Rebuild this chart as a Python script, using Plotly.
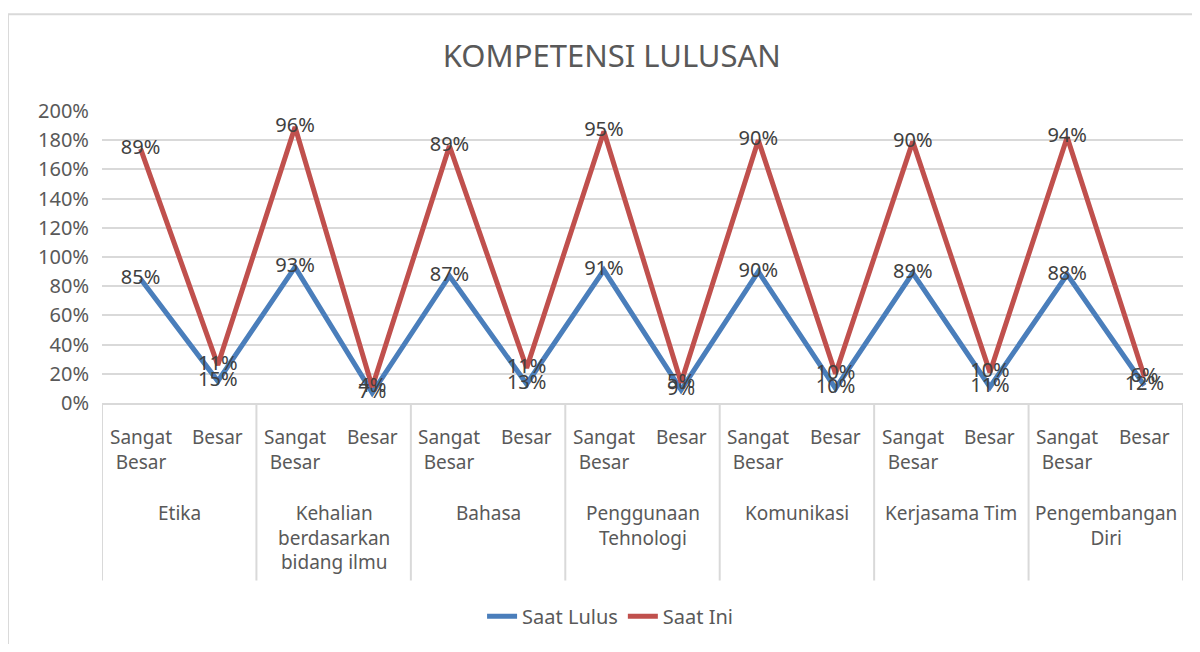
import plotly.graph_objects as go
import numpy as np

kompetensi = ["Etika", "Kehalian<br>berdasarkan<br>bidang ilmu", "Bahasa", "Penggunaan<br>Tehnologi",
              "Komunikasi", "Kerjasama Tim", "Pengembangan<br>Diri"]
tingkat = ["Sangat<br>Besar", "Besar"]

saat_lulus = [85, 15, 93, 7, 87, 13, 91, 9, 90, 10, 89, 11, 88, 12]
saat_ini = [89, 11, 96, 4, 89, 11, 95, 5, 90, 10, 90, 10, 94, 6]

# 14 posisi kategori (kompetensi x tingkat)
n_cat = len(kompetensi) * len(tingkat)
pos = list(range(n_cat))

lulus = np.array(saat_lulus) / 100
ini_stacked = lulus + np.array(saat_ini) / 100  # garis bertumpuk seperti di Excel

grid = "#d9d9d9"
txt = "#595959"

fig = go.Figure()
fig.add_trace(go.Scatter(
    x=pos, y=lulus, name="Saat Lulus", mode="lines+text",
    line=dict(color="#4a7ebb", width=5),
    text=[f"{v}%" for v in saat_lulus], textposition="middle center",
    textfont=dict(size=20, color="#404040"),
))
fig.add_trace(go.Scatter(
    x=pos, y=ini_stacked, name="Saat Ini", mode="lines+text",
    line=dict(color="#c0504d", width=5),
    text=[f"{v}%" for v in saat_ini], textposition="middle center",
    textfont=dict(size=20, color="#404040"),
))

# label sumbu x dua tingkat
for i in pos:
    fig.add_annotation(x=i, y=-0.065, xref="x", yref="paper", yanchor="top",
                       text=tingkat[i % 2], showarrow=False,
                       font=dict(size=19, color=txt))
for g, k in enumerate(kompetensi):
    fig.add_annotation(x=2 * g + 0.5, y=-0.325, xref="x", yref="paper", yanchor="top",
                       text=k, showarrow=False, font=dict(size=19, color=txt))
# garis pembatas kelompok
for g in range(len(kompetensi) + 1):
    fig.add_shape(type="line", x0=2 * g - 0.5, x1=2 * g - 0.5, xref="x", yref="paper",
                  y0=0, y1=-0.608, line=dict(color=grid, width=2))

# bingkai grafik (hanya atas dan kiri yang terlihat)
fig.add_shape(type="line", xref="paper", yref="paper", x0=-0.087, x1=1.02, y0=1.331, y1=1.331,
              line=dict(color=grid, width=2))
fig.add_shape(type="line", xref="paper", yref="paper", x0=-0.087, x1=-0.087, y0=1.331, y1=-0.85,
              line=dict(color=grid, width=2))

fig.update_layout(
    title=dict(text="KOMPETENSI LULUSAN", x=0.51, xanchor="center", y=0.925, yanchor="middle",
               font=dict(size=31, color=txt)),
    font=dict(family="Noto Sans", color=txt),
    width=1184, height=636,
    margin=dict(l=94, r=9, t=103, b=237),
    plot_bgcolor="white", paper_bgcolor="white",
    showlegend=True,
    legend=dict(orientation="h", x=0.47, xanchor="center", y=-0.73, yanchor="middle",
                font=dict(size=20, color=txt)),
)
fig.update_yaxes(range=[0, 2], dtick=0.2, tickformat=".0%", gridcolor=grid, gridwidth=2,
                 tickfont=dict(size=20), zeroline=False, showline=False,
                 ticks="outside", ticklen=8, tickcolor="white")
fig.update_xaxes(range=[-0.5, n_cat - 0.5], showticklabels=False, showgrid=False,
                 showline=True, linecolor=grid, linewidth=2, zeroline=False)

fig.write_html("out.html")
